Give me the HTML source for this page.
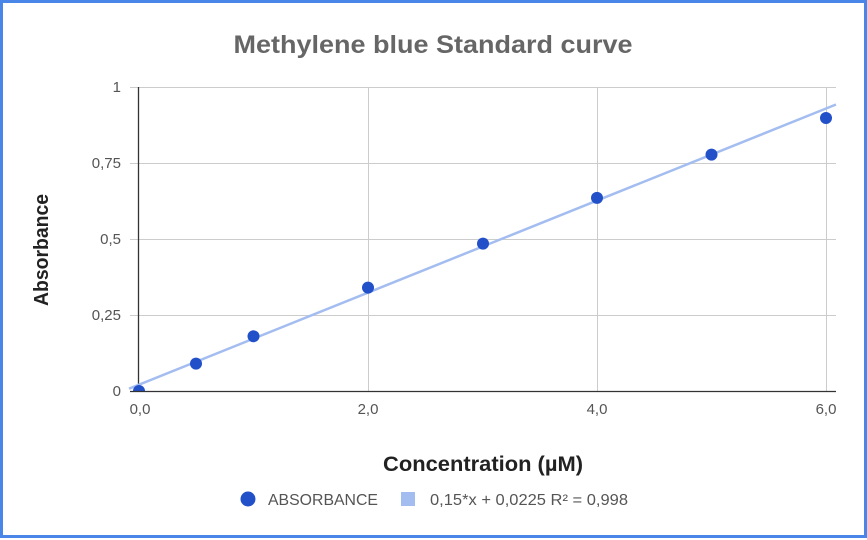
<!DOCTYPE html>
<html><head><style>
body{margin:0;background:#fff;}
svg{display:block;font-family:"Liberation Sans",Arial,sans-serif;}
</style></head><body>
<svg width="867" height="540" viewBox="0 0 867 540">
<rect x="1.5" y="1.5" width="864" height="535" fill="#fff" stroke="#4a86e8" stroke-width="3"/>
<text x="433" y="53" text-anchor="middle" font-size="25" font-weight="bold" fill="#666" textLength="399" lengthAdjust="spacingAndGlyphs">Methylene blue Standard curve</text>
<g stroke="#ccc" stroke-width="1">
<line x1="130" y1="87.5" x2="836" y2="87.5"/>
<line x1="130" y1="163.5" x2="836" y2="163.5"/>
<line x1="130" y1="239.5" x2="836" y2="239.5"/>
<line x1="130" y1="315.5" x2="836" y2="315.5"/>
<line x1="368.5" y1="87" x2="368.5" y2="391"/>
<line x1="597.5" y1="87" x2="597.5" y2="391"/>
<line x1="826.5" y1="87" x2="826.5" y2="391"/>
</g>
<line x1="138.5" y1="87" x2="138.5" y2="391" stroke="#333" stroke-width="1.3"/>
<g font-size="15" fill="#555" text-anchor="end">
<text x="121" y="92">1</text>
<text x="121" y="168">0,75</text>
<text x="121" y="244">0,5</text>
<text x="121" y="320">0,25</text>
<text x="121" y="396">0</text>
</g>
<g font-size="15" fill="#555" text-anchor="middle">
<text x="140" y="414">0,0</text>
<text x="368" y="414">2,0</text>
<text x="597" y="414">4,0</text>
<text x="826" y="414">6,0</text>
</g>
<line x1="129" y1="388.7" x2="836" y2="104.5" stroke="#a4bdf0" stroke-width="2.5"/>
<g fill="#2250c9">
<circle cx="196" cy="363.6" r="6"/>
<circle cx="253.5" cy="336.3" r="6"/>
<circle cx="368" cy="287.6" r="6"/>
<circle cx="483" cy="243.6" r="6"/>
<circle cx="597" cy="197.9" r="6"/>
<circle cx="711.5" cy="154.6" r="6"/>
<circle cx="826" cy="118" r="6"/>
<path d="M133 391 A6 6 0 0 1 145 391 Z"/>
</g>
<line x1="130" y1="391.5" x2="836" y2="391.5" stroke="#333" stroke-width="1.3"/>
<text x="483" y="471" text-anchor="middle" font-size="21" font-weight="bold" fill="#222" textLength="200" lengthAdjust="spacingAndGlyphs">Concentration (µM)</text>
<text transform="translate(48,250) rotate(-90)" text-anchor="middle" font-size="20" font-weight="bold" fill="#222" textLength="112" lengthAdjust="spacingAndGlyphs">Absorbance</text>
<circle cx="248" cy="499" r="7.5" fill="#2250c9"/>
<text x="268" y="505" font-size="15.5" fill="#555" textLength="110" lengthAdjust="spacingAndGlyphs">ABSORBANCE</text>
<rect x="401" y="492" width="14" height="14" fill="#a4bdf0"/>
<text x="430" y="505" font-size="15.5" fill="#555" textLength="198" lengthAdjust="spacingAndGlyphs">0,15*x + 0,0225 R² = 0,998</text>
</svg>
</body></html>
